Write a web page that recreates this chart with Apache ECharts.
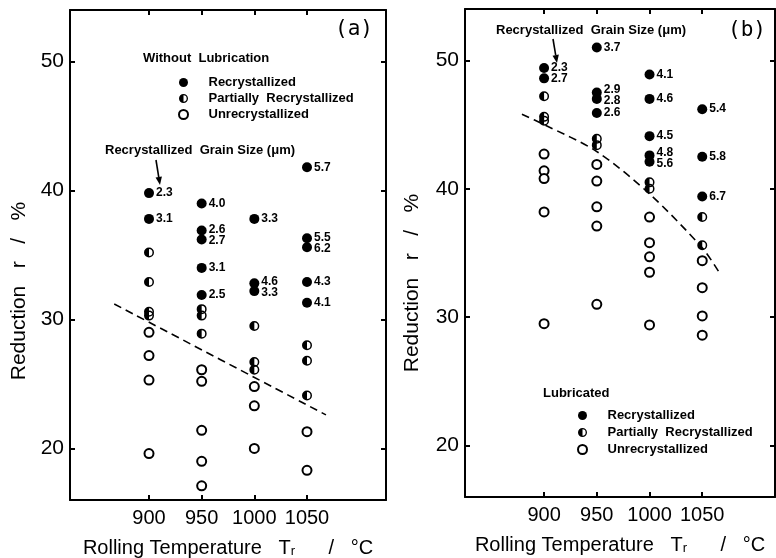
<!DOCTYPE html>
<html><head><meta charset="utf-8">
<script src="https://cdn.jsdelivr.net/npm/echarts@6/dist/echarts.min.js"></script>
<style>html,body{margin:0;padding:0;background:#fff}#c{width:776px;height:558px}</style>
</head><body><div id="c"></div>
<script>
// ---------- data ----------
const xTicks = [900, 950, 1000, 1050];
const yTicks = [20, 30, 40, 50];

// (a) Without lubrication
const aRecT = [900, 900, 950, 950, 950, 950, 950, 1000, 1000, 1000, 1050, 1050, 1050, 1050, 1050];
const aRecR = [39.8, 37.8, 39.0, 36.9, 36.2, 34.0, 31.9, 37.8, 32.8, 32.2, 41.8, 36.3, 35.6, 32.9, 31.3];
const aRecSize = ['2.3', '3.1', '4.0', '2.6', '2.7', '3.1', '2.5', '3.3', '4.6', '3.3', '5.7', '5.5', '6.2', '4.3', '4.1'];
const aPartT = [900, 900, 900, 900, 950, 950, 950, 1000, 1000, 1000, 1050, 1050, 1050];
const aPartR = [35.2, 32.9, 30.6, 30.3, 30.8, 30.3, 28.9, 29.5, 26.7, 26.1, 28.0, 26.8, 24.1];
const aUnT = [900, 900, 900, 900, 950, 950, 950, 950, 950, 1000, 1000, 1000, 1050, 1050];
const aUnR = [29.0, 27.2, 25.3, 19.6, 26.1, 25.2, 21.4, 19.0, 17.1, 24.8, 23.3, 20.0, 21.3, 18.3];
const aLineT = [867, 1068];
const aLineR = [31.2, 22.6];

// (b) Lubricated
const bRecT = [900, 900, 950, 950, 950, 950, 1000, 1000, 1000, 1000, 1000, 1050, 1050, 1050];
const bRecR = [49.4, 48.6, 51.0, 47.5, 47.0, 45.9, 48.9, 47.0, 44.1, 42.6, 42.1, 46.2, 42.5, 39.4];
const bRecSize = ['2.3', '2.7', '3.7', '2.9', '2.8', '2.6', '4.1', '4.6', '4.5', '4.8', '5.6', '5.4', '5.8', '6.7'];
const bPartT = [900, 900, 900, 950, 950, 1000, 1000, 1050, 1050];
const bPartR = [47.2, 45.6, 45.3, 43.9, 43.4, 40.5, 40.0, 37.8, 35.6];
const bUnT = [900, 900, 900, 900, 900, 950, 950, 950, 950, 950, 1000, 1000, 1000, 1000, 1000, 1050, 1050, 1050, 1050];
const bUnR = [42.7, 41.4, 40.8, 38.2, 29.5, 41.9, 40.6, 38.6, 37.1, 31.0, 37.8, 35.8, 34.7, 33.5, 29.4, 34.4, 32.3, 30.1, 28.6];
const bLineT = [879, 900, 950, 1000, 1050, 1066];
const bLineR = [45.8, 45.0, 42.9, 39.6, 35.4, 33.5];

// ---------- styling ----------
const SANS = '"Liberation Sans", Arial, sans-serif';
const HALF = 'path://M10,0A10,10,0,1,1,10,20A10,10,0,1,1,10,0ZM10,3L10,17A7,7,0,0,0,10,3Z';
const Y_MIN = 16, Y_MAX = 54;
const GRID_A = { left: 70, top: 10, width: 316, height: 490 };
const GRID_B = { left: 465, top: 9, width: 310, height: 488 };

function pts(T, R, names) {
  return T.map((t, i) => names ? { name: names[i], value: [t, R[i]] } : [t, R[i]]);
}

// spread the grain-size labels of close markers in one column so they do not overlap
function labelOffsets(T, R, gridH, minGap) {
  const k = gridH / (Y_MAX - Y_MIN);
  const pos = R.map(r => -r * k);
  const cur = pos.slice();
  const idx = R.map((_, i) => i);
  for (let it = 0; it < 40; it++) {
    xTicks.forEach(t => {
      const col = idx.filter(i => T[i] === t).sort((a, b) => cur[a] - cur[b]);
      for (let j = 1; j < col.length; j++) {
        const a = col[j - 1], b = col[j];
        const gap = cur[b] - cur[a];
        if (gap < minGap) { const d = (minGap - gap) / 2; cur[a] -= d; cur[b] += d; }
      }
    });
  }
  return cur.map((c, i) => c - pos[i]);
}

function xAxes(gi, min, max) {
  const base = {
    gridIndex: gi, type: 'value', min: min, max: max,
    splitLine: { show: false },
    axisLine: { onZero: false, lineStyle: { color: '#000', width: 2 } },
    axisTick: { inside: true, length: 5, customValues: xTicks, lineStyle: { color: '#000', width: 2 } }
  };
  return [
    Object.assign({}, base, {
      position: 'bottom',
      axisLabel: { customValues: xTicks, formatter: v => String(v), color: '#000', fontSize: 20, fontFamily: SANS, margin: 8 },
      name: 'Rolling Temperature   {t|T}{s|r}      /   °C', nameLocation: 'middle', nameGap: 38,
      nameTextStyle: {
        color: '#000', fontSize: 20, fontFamily: SANS,
        rich: { t: { fontSize: 20, fontFamily: SANS, color: '#000' }, s: { fontSize: 13, fontFamily: SANS, color: '#000', padding: [6, 0, 0, 0] } }
      }
    }),
    Object.assign({}, base, { position: 'top', axisLabel: { show: false } })
  ];
}
function yAxes(gi, nameGap, shift) {
  const base = {
    gridIndex: gi, type: 'value', min: Y_MIN, max: Y_MAX,
    splitLine: { show: false },
    axisLine: { onZero: false, lineStyle: { color: '#000', width: 2 } },
    axisTick: { inside: true, length: 5, customValues: yTicks, lineStyle: { color: '#000', width: 2 } }
  };
  return [
    Object.assign({}, base, {
      position: 'left',
      axisLabel: { customValues: yTicks, color: '#000', fontSize: 21, fontFamily: SANS, margin: 6 },
      name: 'Reduction   r   /   %', nameLocation: 'middle', nameGap: nameGap, nameRotate: 90,
      nameTextStyle: { color: '#000', fontSize: 21, fontFamily: SANS, padding: [0, shift, 0, 0] }
    }),
    Object.assign({}, base, { position: 'right', axisLabel: { show: false } })
  ];
}

function recSeries(name, xi, yi, T, R, S, gridH) {
  const off = labelOffsets(T, R, gridH, 11);
  return {
    name: name, type: 'scatter', xAxisIndex: xi, yAxisIndex: yi,
    symbol: 'circle', symbolSize: 10, itemStyle: { color: '#000', opacity: 1 },
    data: pts(T, R, S),
    label: { show: true, position: 'right', distance: 2, formatter: '{b}', color: '#000', fontSize: 12, fontWeight: 'bold', fontFamily: SANS, lineHeight: 12 },
    labelLayout: p => ({ dy: off[p.dataIndex] }),
    z: 3
  };
}
function partSeries(name, xi, yi, T, R) {
  return {
    name: name, type: 'scatter', xAxisIndex: xi, yAxisIndex: yi,
    symbol: HALF, symbolSize: 10, itemStyle: { color: '#000', opacity: 1 },
    data: pts(T, R), z: 3
  };
}
function unSeries(name, xi, yi, T, R) {
  return {
    name: name, type: 'scatter', xAxisIndex: xi, yAxisIndex: yi,
    symbol: 'circle', symbolSize: 9, itemStyle: { color: '#fff', borderColor: '#000', borderWidth: 2, opacity: 1 },
    data: pts(T, R), z: 3
  };
}
function lineSeries(xi, yi, T, R) {
  return {
    name: 'boundary', type: 'line', xAxisIndex: xi, yAxisIndex: yi, showSymbol: false, silent: true,
    smooth: 0.3,
    lineStyle: { color: '#000', width: 1.6, type: [8, 5] },
    data: pts(T, R), z: 2
  };
}

const legendBase = {
  orient: 'vertical', itemWidth: 40, itemHeight: 9,
  textStyle: { color: '#000', fontSize: 13, fontWeight: 'bold', fontFamily: SANS },
  formatter: n => n.replace('Partially ', 'Partially  '),
  data: ['Recrystallized', 'Partially Recrystallized', 'Unrecrystallized'],
  selectedMode: false
};

function txt(x, y, s, size, weight, family) {
  return { type: 'text', x: x, y: y, style: { text: s, fill: '#000', fontSize: size, fontWeight: weight || 'normal', fontFamily: family || SANS, verticalAlign: 'middle' }, z: 10 };
}
function arrow(x1, y1, x2, y2) {
  const a = Math.atan2(y2 - y1, x2 - x1), L = 8, W = 3.2;
  const bx = x2 - L * Math.cos(a), by = y2 - L * Math.sin(a);
  const nx = -Math.sin(a), ny = Math.cos(a);
  return [
    { type: 'line', shape: { x1: x1, y1: y1, x2: bx, y2: by }, style: { stroke: '#000', lineWidth: 1.6 }, z: 10 },
    { type: 'polygon', shape: { points: [[x2, y2], [bx + nx * W, by + ny * W], [bx - nx * W, by - ny * W]] }, style: { fill: '#000' }, z: 10 }
  ];
}

const chart = echarts.init(document.getElementById('c'), null, { renderer: 'canvas' });
chart.setOption({
  animation: false,
  backgroundColor: '#fff',
  grid: [
    Object.assign({ containLabel: false, outerBoundsMode: 'none' }, GRID_A),
    Object.assign({ containLabel: false, outerBoundsMode: 'none' }, GRID_B)
  ],
  xAxis: xAxes(0, 825, 1125).concat(xAxes(1, 825, 1119)),
  yAxis: yAxes(0, 40, 72).concat(yAxes(1, 42, 60)),
  legend: [
    Object.assign({}, legendBase, { left: 173, top: 71, itemGap: 3 }),
    Object.assign({}, legendBase, { left: 572, top: 404, itemGap: 4 })
  ],
  series: [
    recSeries('Recrystallized', 0, 0, aRecT, aRecR, aRecSize, GRID_A.height),
    partSeries('Partially Recrystallized', 0, 0, aPartT, aPartR),
    unSeries('Unrecrystallized', 0, 0, aUnT, aUnR),
    lineSeries(0, 0, aLineT, aLineR),
    recSeries('Recrystallized', 2, 2, bRecT, bRecR, bRecSize, GRID_B.height),
    partSeries('Partially Recrystallized', 2, 2, bPartT, bPartR),
    unSeries('Unrecrystallized', 2, 2, bUnT, bUnR),
    lineSeries(2, 2, bLineT, bLineR)
  ],
  graphic: [
    txt(143, 58, 'Without  Lubrication', 13, 'bold'),
    txt(105, 150, 'Recrystallized  Grain Size (μm)', 13, 'bold'),
    txt(335, 30, '(a)', 21, 'normal', '"DejaVu Sans Mono", monospace'),
    txt(496, 30, 'Recrystallized  Grain Size (μm)', 13, 'bold'),
    txt(728, 31, '(b)', 21, 'normal', '"DejaVu Sans Mono", monospace'),
    txt(543, 393, 'Lubricated', 13, 'bold')
  ].concat(arrow(156, 160, 160, 185)).concat(arrow(553, 39, 557, 63))
});
</script>
</body></html>
